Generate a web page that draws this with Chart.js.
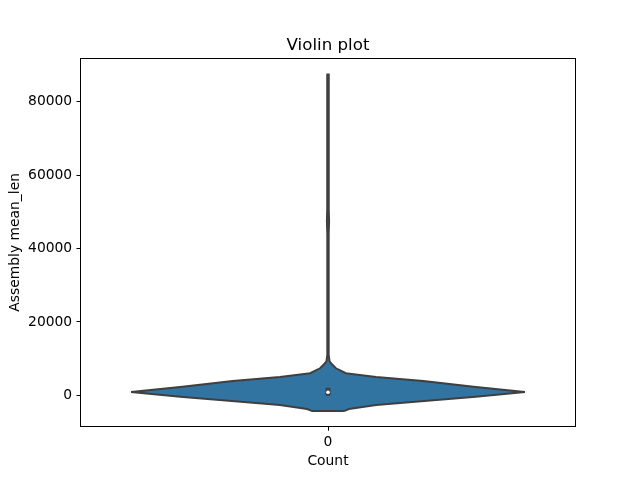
<!DOCTYPE html>
<html>
<head>
<meta charset="utf-8">
<title>Violin plot</title>
<script src="https://cdn.jsdelivr.net/npm/chart.js"></script>
<style>
  html, body { margin: 0; padding: 0; background: #fff; }
  #wrap { width: 640px; height: 480px; }
</style>
</head>
<body>
<div id="wrap"><canvas id="violinCanvas" width="640" height="480"></canvas></div>
<script>
// values
const xCategories = ['0'];
const yTickValues = [0, 20000, 40000, 60000, 80000];

// violin outline: value along y, and half width (fraction of one category)
const densityValues = [-4300, -3730, -2640, -1550, -380, 900, 2260, 3900, 4990, 5670, 6000, 7360, 8720, 9350, 11000, 44000, 47500, 51000, 67000, 69500, 72500, 87400];
const densityHalfWidths = [0.032, 0.042, 0.097, 0.194, 0.298, 0.397, 0.298, 0.192, 0.097, 0.056, 0.036, 0.016, 0.006, 0.003, 0.0014, 0.0014, 0.0022, 0.0014, 0.0014, 0.002, 0.0014, 0.0012];

const boxQuartiles = [-150, 2050];
const medianValue = 820;

const yLimits = [-8700, 92040];
const xLimits = [-0.5, 0.5];

const titleText = 'Violin plot';
const outline = '#3f3f3f';
const violinFill = '#3274a1';

// build the closed violin shape from the density arrays
function violinShape(center) {
    const right = densityValues.map((v, i) => ({ x: center + densityHalfWidths[i], y: v }));
    const left = densityValues.map((v, i) => ({ x: center - densityHalfWidths[i], y: v })).reverse();
    return right.concat(left, [right[0]]);
}

const tickFont = { family: 'DejaVu Sans', size: 13.89, lineHeight: 1.2 };

// matplotlib style frame on all four sides, title centred over the axes
const framePlugin = {
    id: 'frame',
    afterDraw(chart) {
        const { ctx, chartArea: a } = chart;
        ctx.save();
        ctx.strokeStyle = '#000';
        ctx.lineWidth = 1;
        const l = Math.round(a.left) + 0.5, t = Math.round(a.top) + 0.5;
        const r = Math.round(a.right) - 0.5, b = Math.round(a.bottom) - 0.5;
        ctx.strokeRect(l, t, r - l, b - t);

        ctx.fillStyle = '#000';
        ctx.font = '16.67px "DejaVu Sans"';
        ctx.textAlign = 'center';
        ctx.textBaseline = 'alphabetic';
        ctx.fillText(titleText, (a.left + a.right) / 2, 50);
        ctx.restore();
    }
};

const ctx = document.getElementById('violinCanvas');

new Chart(ctx, {
    type: 'line',
    data: {
        datasets: [
            {
                label: 'median',
                data: [{ x: 0, y: medianValue }],
                showLine: false,
                pointRadius: 1.8,
                pointBackgroundColor: '#fff',
                pointBorderWidth: 0,
                order: 0
            },
            {
                label: 'iqr',
                data: boxQuartiles.map(q => ({ x: 0, y: q })),
                borderColor: outline,
                borderWidth: 5,
                borderCapStyle: 'butt',
                pointRadius: 0,
                order: 1
            },
            {
                label: 'violin',
                data: violinShape(0),
                borderColor: outline,
                borderWidth: 2,
                borderJoinStyle: 'miter',
                backgroundColor: violinFill,
                fill: 'shape',
                tension: 0,
                pointRadius: 0,
                order: 2
            }
        ]
    },
    options: {
        responsive: false,
        animation: false,
        events: [],
        layout: { padding: { left: 0, right: 64, top: 57.6, bottom: 0 } },
        plugins: {
            legend: { display: false },
            tooltip: { enabled: false },
            title: { display: false }
        },
        scales: {
            x: {
                type: 'linear',
                min: xLimits[0],
                max: xLimits[1],
                afterBuildTicks: s => { s.ticks = xCategories.map((c, i) => ({ value: i })); },
                afterFit: s => { s.height = 52.8; },
                ticks: {
                    callback: v => xCategories[v] ?? '',
                    color: '#000',
                    font: tickFont,
                    padding: 3.5,
                    maxRotation: 0,
                    autoSkip: false
                },
                grid: { drawOnChartArea: false, drawTicks: true, tickLength: 3.5, tickColor: '#000', tickWidth: 1 },
                border: { display: false },
                title: {
                    display: true,
                    text: 'Count',
                    color: '#000',
                    font: tickFont,
                    padding: { top: 9.8, bottom: 9.8 }
                }
            },
            y: {
                type: 'linear',
                min: yLimits[0],
                max: yLimits[1],
                afterBuildTicks: s => { s.ticks = yTickValues.map(v => ({ value: v })); },
                afterFit: s => { s.width = 80; },
                ticks: {
                    callback: v => String(v),
                    color: '#000',
                    font: tickFont,
                    padding: 4.3
                },
                grid: { drawOnChartArea: false, drawTicks: true, tickLength: 3.5, tickColor: '#000', tickWidth: 1 },
                border: { display: false },
                title: {
                    display: true,
                    text: 'Assembly mean_len',
                    color: '#000',
                    font: tickFont,
                    padding: { top: 6.9, bottom: 6.9 }
                }
            }
        }
    },
    plugins: [framePlugin]
});
</script>
</body>
</html>
